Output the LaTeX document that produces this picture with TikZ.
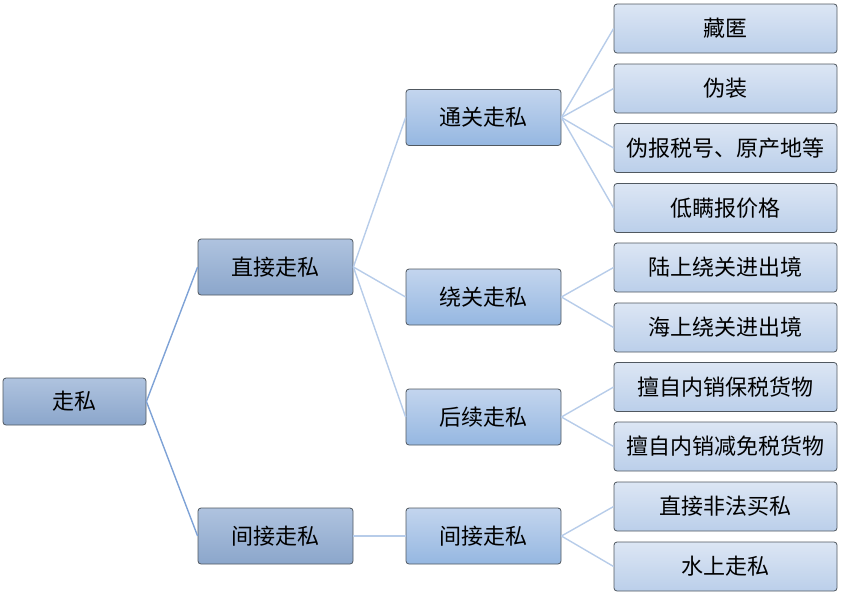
\documentclass[tikz,border=0pt]{standalone}
\usepackage{fontspec}
\newfontfamily\cjk{Noto Sans CJK SC}
\definecolor{aTop}{HTML}{AFC3DF}
\definecolor{aBot}{HTML}{8BA6CB}
\definecolor{bTop}{HTML}{C3D5EE}
\definecolor{bBot}{HTML}{95B7E1}
\definecolor{cTop}{HTML}{DCE6F4}
\definecolor{cBot}{HTML}{BBCFEA}
\definecolor{edgeA}{HTML}{7EA2D6}
\definecolor{edgeB}{HTML}{B7CCE9}
\definecolor{border}{HTML}{505860}
\begin{document}
\begin{tikzpicture}[x=1pt,y=-1pt,
  base/.style={draw=border, line width=0.8pt, rounded corners=3pt, inner sep=0pt,
    font=\cjk\fontsize{22}{26}\selectfont, text=black, anchor=center},
  lvA/.style={base, top color=aTop, bottom color=aBot},
  lvB/.style={base, top color=bTop, bottom color=bBot, minimum width=155pt, minimum height=56pt},
  lvC/.style={base, top color=cTop, bottom color=cBot, minimum width=223pt, minimum height=49pt},
  linkA/.style={draw=edgeA, line width=1.4pt},
  linkB/.style={draw=edgeB, line width=1.4pt}]
\useasboundingbox (0,0) rectangle (843,603);
\node[lvA, minimum width=143pt, minimum height=47pt] (root) at (74.5,401.5) {走私};
\node[lvA, minimum width=155pt, minimum height=56pt] (zj) at (275.5,267) {直接走私};
\node[lvA, minimum width=155pt, minimum height=56pt] (jj) at (275.5,536) {间接走私};
\node[lvB] (tg) at (483.5,117.5) {通关走私};
\node[lvB] (rg) at (483.5,297) {绕关走私};
\node[lvB] (hx) at (483.5,417) {后续走私};
\node[lvB] (jj2) at (483.5,536) {间接走私};
\node[lvC] (c1) at (725.5,28.5) {藏匿};
\node[lvC] (c2) at (725.5,88.5) {伪装};
\node[lvC] (c3) at (725.5,148) {伪报税号、原产地等};
\node[lvC] (c4) at (725.5,208) {低瞒报价格};
\node[lvC] (c5) at (725.5,267.5) {陆上绕关进出境};
\node[lvC] (c6) at (725.5,327.5) {海上绕关进出境};
\node[lvC] (c7) at (725.5,387) {擅自内销保税货物};
\node[lvC] (c8) at (725.5,446.5) {擅自内销减免税货物};
\node[lvC] (c9) at (725.5,506.5) {直接非法买私};
\node[lvC] (c10) at (725.5,566.5) {水上走私};
\draw[linkA] (root.east) -- (zj.west);
\draw[linkA] (root.east) -- (jj.west);
\draw[linkB] (zj.east) -- (tg.west);
\draw[linkB] (zj.east) -- (rg.west);
\draw[linkB] (zj.east) -- (hx.west);
\draw[linkB] (jj.east) -- (jj2.west);
\foreach \c in {c1,c2,c3,c4} \draw[linkB] (tg.east) -- (\c.west);
\foreach \c in {c5,c6} \draw[linkB] (rg.east) -- (\c.west);
\foreach \c in {c7,c8} \draw[linkB] (hx.east) -- (\c.west);
\foreach \c in {c9,c10} \draw[linkB] (jj2.east) -- (\c.west);
\end{tikzpicture}
\end{document}
